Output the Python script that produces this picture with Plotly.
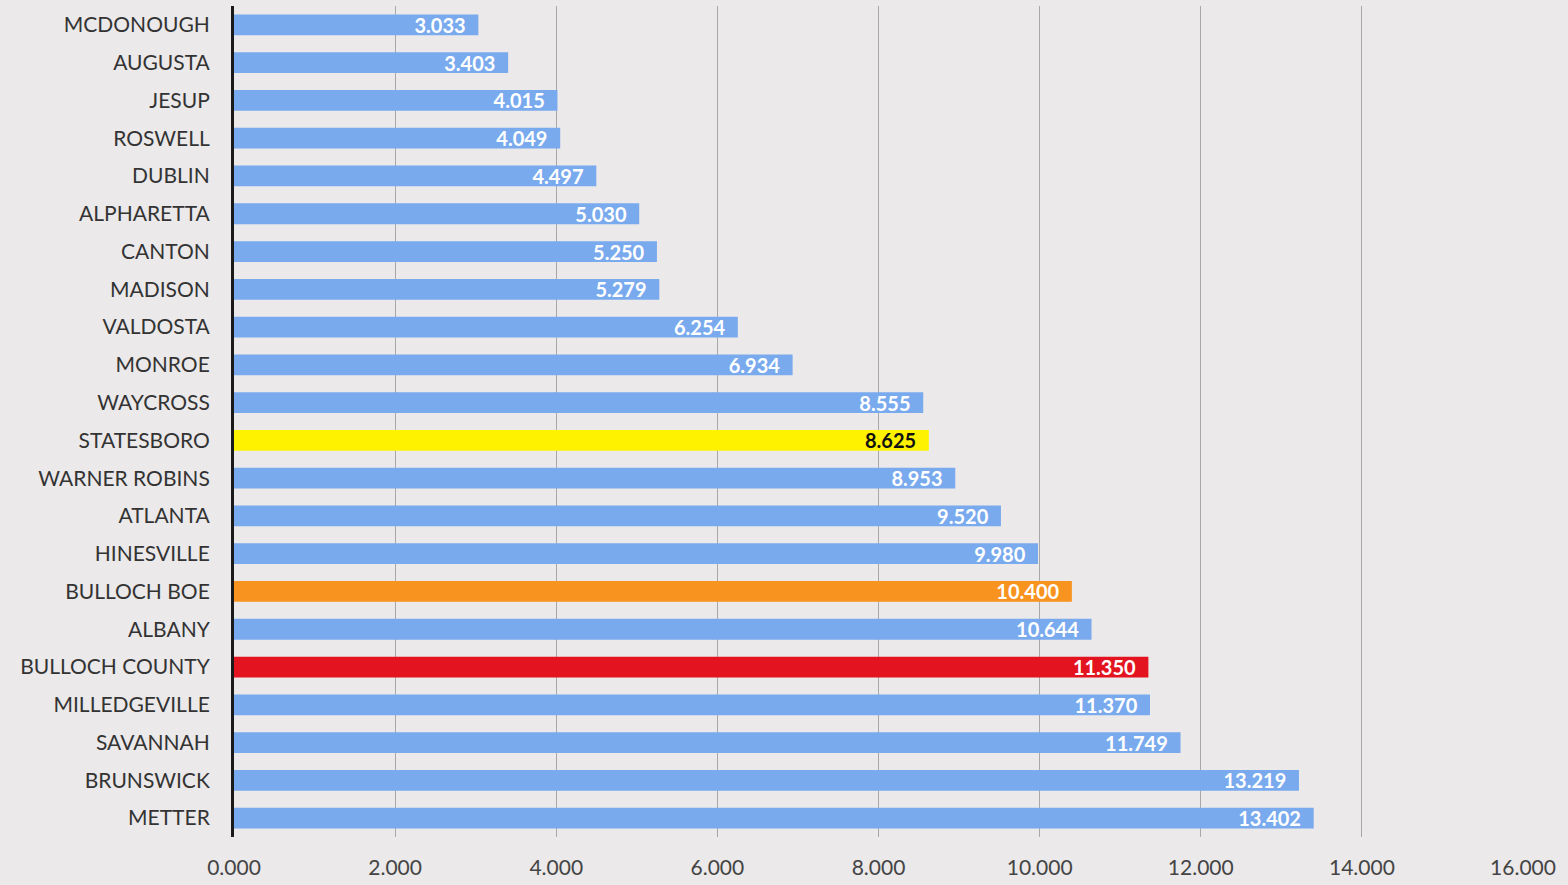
import plotly.graph_objects as go

# Categorías (de arriba hacia abajo) y valores
cities = ['MCDONOUGH', 'AUGUSTA', 'JESUP', 'ROSWELL', 'DUBLIN', 'ALPHARETTA', 'CANTON',
          'MADISON', 'VALDOSTA', 'MONROE', 'WAYCROSS', 'STATESBORO', 'WARNER ROBINS',
          'ATLANTA', 'HINESVILLE', 'BULLOCH BOE', 'ALBANY', 'BULLOCH COUNTY',
          'MILLEDGEVILLE', 'SAVANNAH', 'BRUNSWICK', 'METTER']
rates = [3.033, 3.403, 4.015, 4.049, 4.497, 5.030, 5.250, 5.279, 6.254, 6.934, 8.555,
         8.625, 8.953, 9.520, 9.980, 10.400, 10.644, 11.350, 11.370, 11.749, 13.219, 13.402]
tick_vals = [0, 2, 4, 6, 8, 10, 12, 14, 16]

BLUE = '#7aaaee'
HIGHLIGHT = {'STATESBORO': '#fff200', 'BULLOCH BOE': '#f7931e', 'BULLOCH COUNTY': '#e3141f'}

bar_colors = [HIGHLIGHT.get(c, BLUE) for c in cities]
text_colors = ['#111111' if c == 'STATESBORO' else '#ffffff' for c in cities]

fig = go.Figure(go.Bar(
    x=rates, y=cities, orientation='h',
    marker=dict(color=bar_colors, line=dict(width=0)),
    width=0.55,
    text=[f'{v:.3f}  ' for v in rates],
    textposition='inside', insidetextanchor='end',
    textfont=dict(family='Lato, Open Sans, sans-serif', size=20, color=text_colors,
                  weight='bold'),
    constraintext='none',
))

fig.update_layout(
    width=1568, height=885,
    paper_bgcolor='#ebe9ea', plot_bgcolor='#ebe9ea',
    margin=dict(l=234, r=45, t=6, b=46),
    font=dict(family='Lato, Open Sans, sans-serif', color='#333333', size=21),
    showlegend=False,
    xaxis=dict(range=[0, 16], tickvals=tick_vals, tickformat='.3f',
               showgrid=True, gridcolor='#a8a8a8', gridwidth=1,
               zeroline=False, showline=False, ticks='', ticklabelstandoff=16,
               tickfont=dict(size=21, color='#444444')),
    yaxis=dict(categoryorder='array', categoryarray=cities[::-1],
               autorange=True, showline=True, linecolor='#1a1a1a', linewidth=3,
               showgrid=False, ticks='', ticklabelstandoff=17,
               tickfont=dict(size=21, color='#333333')),
)

fig.write_html('out.html', config={'displayModeBar': False},
               post_script="document.body.style.margin='0';")
